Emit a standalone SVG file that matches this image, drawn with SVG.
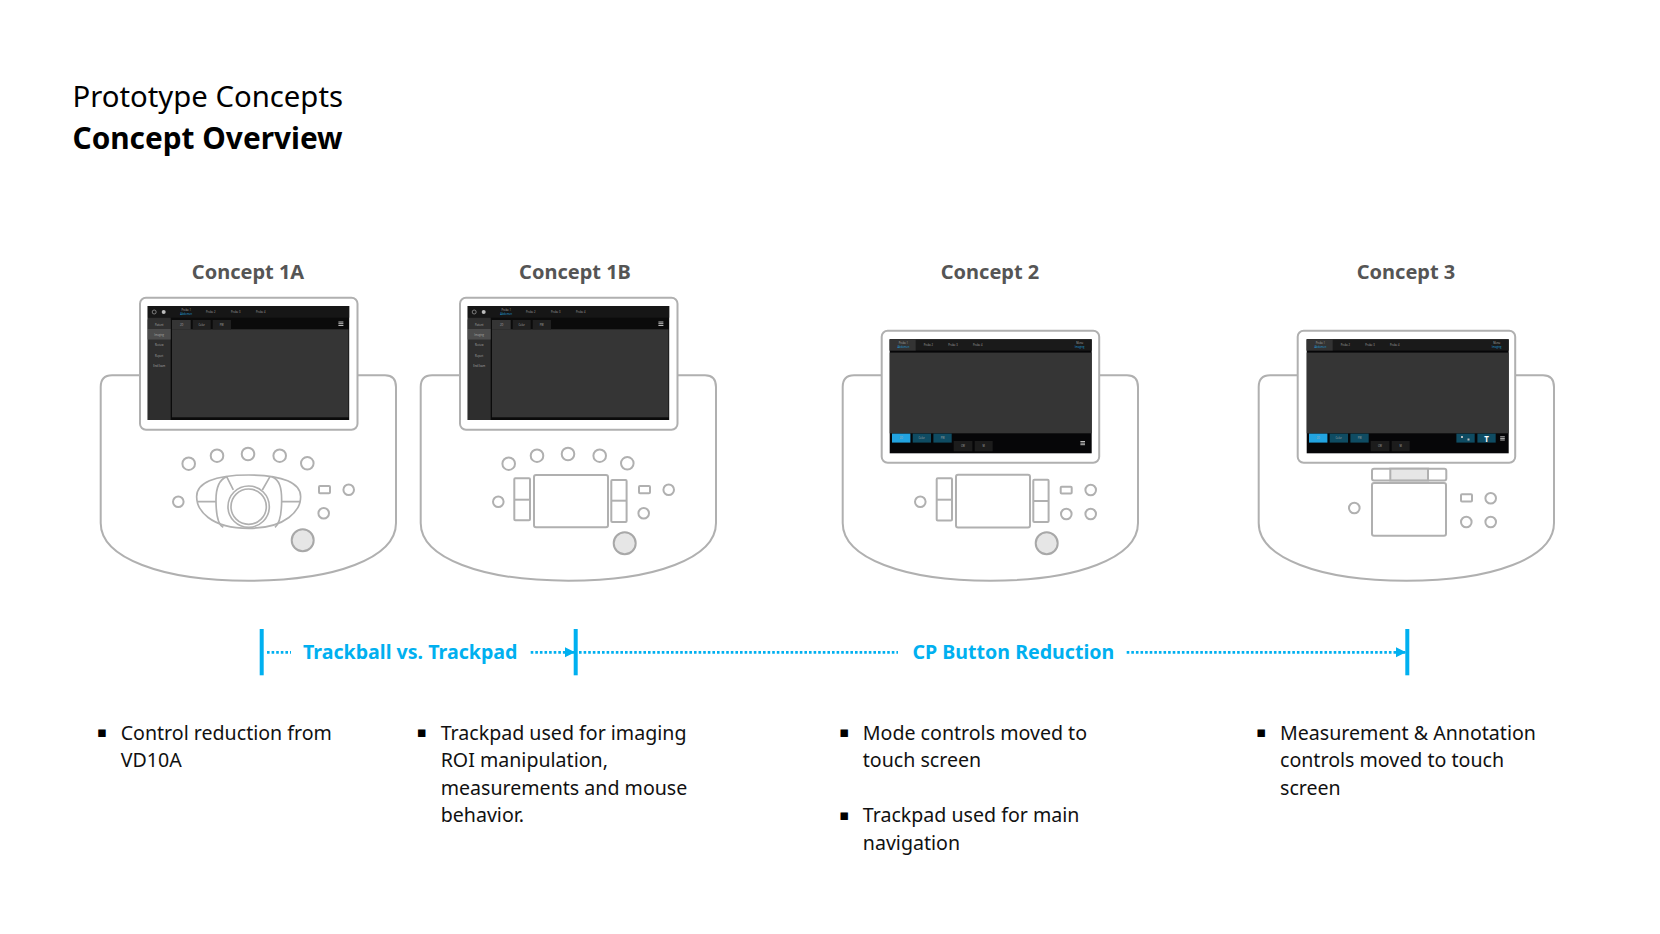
<svg xmlns="http://www.w3.org/2000/svg" width="1660" height="934" viewBox="0 0 1660 934">
<style>
.ln{fill:none;stroke:#b0b0b0;stroke-width:2}
.wh{fill:#fff;stroke:#b0b0b0;stroke-width:2}
.disc{fill:#e6e6e6;stroke:#a8a8a8;stroke-width:2}
.t{font-family:"Noto Sans","Open Sans",sans-serif}
.title{font-size:29.3px;fill:#000}
.head{font-size:20px;font-weight:700;fill:#555;text-anchor:middle}
.tl{font-size:19.6px;font-weight:700;fill:#00b0f0}
.body{font-size:19.6px;fill:#111}
.bul{font-family:"DejaVu Sans",sans-serif;font-size:15px;fill:#000}
.s{font-family:"Open Sans",sans-serif;font-size:2.6px;fill:#a8a8a8;text-anchor:middle}
.sb{fill:#1f9fd8}
.dot{fill:none;stroke:#00b0f0;stroke-width:2.8;stroke-dasharray:2.6 2}
.bar{fill:#00b0f0}
</style>
<defs>
<marker id="arr" markerUnits="userSpaceOnUse" markerWidth="11" markerHeight="11" refX="10" refY="5" orient="auto"><path d="M0 0L10 5L0 10Z" fill="#00b0f0"/></marker>
<path id="bodyShape" class="wh" d="M100.7 387Q100.7 375.3 112 375.3H385Q396 375.3 396 387V523C396 558 335 580.7 248.3 580.7C162 580.7 100.7 558 100.7 523Z"/>
<rect id="mon" class="wh" x="0" y="0" width="217.5" height="132" rx="6"/>
<g id="screenA">
<rect width="201.5" height="114" fill="#0b0b0b"/>
<rect width="201.5" height="11.7" fill="#161616"/>
<rect y="11.7" width="23" height="102.3" fill="#2e2e2e"/>
<rect y="13.5" width="23" height="9.5" fill="#303030"/>
<rect y="23" width="23" height="10.5" fill="#4c4c4c"/>
<rect x="24.3" y="23.3" width="176.5" height="88" fill="#353535"/>
<rect x="24.3" y="14" width="18.7" height="9.5" fill="#353535"/>
<rect x="45" y="14" width="18" height="9.5" fill="#202020"/>
<rect x="65" y="14" width="18.3" height="9.5" fill="#202020"/>
<circle cx="6.5" cy="6" r="2" fill="none" stroke="#bbb" stroke-width=".6"/>
<circle cx="16" cy="6" r="2" fill="#bbb"/>
<g fill="#bbb"><rect x="190.7" y="15.5" width="5" height="1"/><rect x="190.7" y="17.2" width="5" height="1"/><rect x="190.7" y="19" width="5" height="1"/></g>
<text class="s" x="38.5" y="5">Probe 1</text><text class="s sb" x="38.5" y="9">Abdomen</text>
<text class="s" x="63" y="7">Probe 2</text><text class="s" x="88" y="7">Probe 3</text><text class="s" x="113" y="7">Probe 4</text>
<text class="s" x="11.5" y="19.5">Patient</text><text class="s" x="11.5" y="29.5">Imaging</text><text class="s" x="11.5" y="40">Review</text><text class="s" x="11.5" y="51">Report</text><text class="s" x="11.5" y="61">End Exam</text>
<text class="s" x="34" y="20">2D</text><text class="s" x="54" y="20">Color</text><text class="s" x="74" y="20">PW</text>
</g>
<g id="screenB">
<rect width="202" height="114" fill="#060608"/>
<rect width="202" height="11.3" fill="#1a1a1a"/>
<rect width="26" height="11.3" fill="#333"/>
<rect y="13.3" width="202" height="80.7" fill="#353535"/>
<rect x="2.3" y="94.3" width="18.4" height="9" fill="#22a3e0"/>
<rect x="23" y="94.3" width="18.3" height="9" fill="#0f4c63"/>
<rect x="43.7" y="94.3" width="18.3" height="9" fill="#0f4c63"/>
<rect x="64" y="101.7" width="18.7" height="10.3" fill="#1c1c1c"/>
<rect x="85" y="101.7" width="18" height="10.3" fill="#1c1c1c"/>
<text class="s" x="13.7" y="4.5">Probe 1</text><text class="s sb" x="13.7" y="8.5">Abdomen</text>
<text class="s" x="38.7" y="6.5">Probe 2</text><text class="s" x="63.3" y="6.5">Probe 3</text><text class="s" x="88" y="6.5">Probe 4</text>
<text class="s" x="190" y="4.5">Menu</text><text class="s sb" x="190" y="8.5">Imaging</text>
<text class="s" x="11.5" y="100">2D</text><text class="s" x="32" y="100">Color</text><text class="s" x="53" y="100">PW</text>
<text class="s" x="73.3" y="108">CW</text><text class="s" x="94" y="108">M</text>
</g>
<g id="hamB" fill="#bbb"><rect width="4.6" height="1"/><rect y="1.6" width="4.6" height="1"/><rect y="3.2" width="4.6" height="1"/></g>
</defs>

<g id="title"><text class="t title" x="72.5" y="107">Prototype Concepts</text><text class="t title" x="72.5" y="149" font-weight="700" style="font-size:29.8px">Concept Overview</text></g>

<g id="concept-1a">
<text class="t head" x="248" y="279">Concept 1A</text>
<use href="#bodyShape"/>
<use href="#mon" x="140" y="297.7"/>
<use href="#screenA" x="147.7" y="306"/>
<g class="ln">
<circle cx="188.7" cy="463.7" r="6.3"/><circle cx="217" cy="455.7" r="6.3"/><circle cx="248" cy="454" r="6.3"/><circle cx="279.7" cy="455.7" r="6.3"/><circle cx="307.3" cy="463.3" r="6.3"/>
<circle cx="178.3" cy="501.7" r="5.3"/><rect x="319" y="486" width="11" height="7.3" rx="1"/><circle cx="348.7" cy="489.7" r="5.3"/><circle cx="323.7" cy="513.3" r="5.3"/>
<g transform="translate(90 280) scale(.3333)" stroke-width="5">
<path d="M320 650C320 610 370 585 476 585C580 585 632 610 632 650C632 690 590 745 476 745C360 745 320 690 320 650Z"/>
<path d="M410 590C385 600 378 625 378 660C378 700 385 735 400 742M545 590C570 600 575 625 575 660C575 700 570 730 555 742M410 590L430 630M540 590L517 630M322 665H378M575 665H632"/>
<circle cx="476" cy="680" r="62"/><circle cx="476" cy="680" r="53"/>
</g>
</g>
<circle class="disc" cx="302.7" cy="540.3" r="11"/>
</g>

<g id="concept-1b">
<text class="t head" x="575" y="279">Concept 1B</text>
<use href="#bodyShape" x="320"/>
<use href="#mon" x="460" y="297.7"/>
<use href="#screenA" x="467.7" y="306"/>
<g class="ln">
<circle cx="508.7" cy="463.7" r="6.3"/><circle cx="537" cy="455.7" r="6.3"/><circle cx="568" cy="454" r="6.3"/><circle cx="599.7" cy="455.7" r="6.3"/><circle cx="627.3" cy="463.3" r="6.3"/>
<circle cx="498.3" cy="501.7" r="5.3"/><rect x="639" y="486" width="11" height="7.3" rx="1"/><circle cx="668.7" cy="489.7" r="5.3"/><circle cx="643.7" cy="513.3" r="5.3"/>
<rect x="514.3" y="478.3" width="15.7" height="42" rx="1"/><path d="M514.3 499.7H530"/>
<rect x="534" y="475" width="74" height="52.3" rx="2"/>
<rect x="611.3" y="480" width="15.3" height="42" rx="1"/><path d="M611.3 500.7H626.6"/>
</g>
<circle class="disc" cx="624.7" cy="543.3" r="11"/>
</g>

<g id="concept-2">
<text class="t head" x="990" y="279">Concept 2</text>
<use href="#bodyShape" x="742"/>
<use href="#mon" x="881.7" y="330.7"/>
<use href="#screenB" x="889.7" y="339.3"/>
<use href="#hamB" x="1080.4" y="441"/>
<g class="ln">
<circle cx="920.3" cy="501.7" r="5.3"/>
<rect x="936.7" y="478.3" width="15.3" height="42.3" rx="1"/><path d="M936.7 499.7H952"/>
<rect x="956" y="474.7" width="74" height="52.7" rx="2"/>
<rect x="1033.3" y="479.7" width="15.3" height="42.3" rx="1"/><path d="M1033.3 501H1048.6"/>
<rect x="1060.7" y="486.7" width="11" height="6.7" rx="1"/><circle cx="1090.7" cy="490" r="5.3"/><circle cx="1066.3" cy="514" r="5.3"/><circle cx="1090.7" cy="514" r="5.3"/>
</g>
<circle class="disc" cx="1046.7" cy="543.3" r="11"/>
</g>

<g id="concept-3">
<text class="t head" x="1406" y="279">Concept 3</text>
<use href="#bodyShape" x="1158"/>
<use href="#mon" x="1297.7" y="330.7"/>
<use href="#screenB" x="1306.7" y="339.3"/>
<rect x="1456.4" y="433.6" width="18.3" height="9" fill="#0f4c63"/>
<rect x="1477.4" y="433.6" width="18.3" height="9" fill="#0f4c63"/>
<g fill="#bbb"><rect x="1461" y="436" width="2" height="2"/><rect x="1467.5" y="438.5" width="2" height="2"/></g>
<text x="1486.5" y="441.5" font-family="Open Sans,sans-serif" font-size="8" font-weight="700" fill="#fff" text-anchor="middle">T</text>
<use href="#hamB" x="1500.2" y="436.3"/>
<g class="ln">
<circle cx="1354.3" cy="508" r="5.3"/>
<rect x="1372" y="468.7" width="74.3" height="11.7" rx="2"/>
<rect x="1390.3" y="468.7" width="37.7" height="11.7" fill="#e6e6e6"/>
<rect x="1372" y="483" width="74" height="52.7" rx="2"/>
<rect x="1461" y="494.3" width="11" height="7.3" rx="1"/><circle cx="1490.7" cy="498.3" r="5.3"/><circle cx="1466.3" cy="522" r="5.3"/><circle cx="1490.7" cy="522" r="5.3"/>
</g>
</g>

<g id="connectors">
<path class="dot" d="M267 652.3H291"/>
<path class="dot" d="M530.7 652.3H575" marker-end="url(#arr)"/>
<path class="dot" d="M579 652.3H898"/>
<path class="dot" d="M1126.7 652.3H1406" marker-end="url(#arr)"/>
<rect class="bar" x="259.7" y="629" width="4" height="46.3"/>
<rect class="bar" x="573.7" y="629" width="4" height="46.3"/>
<rect class="bar" x="1405.3" y="629" width="4" height="46.3"/>
</g>
<g id="timeline-labels">
<text class="t tl" x="303" y="659">Trackball vs. Trackpad</text>
<text class="t tl" x="912.5" y="659">CP Button Reduction</text>
</g>

<g id="notes-1a"><text class="bul" x="96.8" y="737">▪</text><text class="t body"><tspan x="120.7" y="739.6">Control reduction from</tspan><tspan x="120.7" y="767">VD10A</tspan></text></g>
<g id="notes-1b"><text class="bul" x="416.5" y="737">▪</text><text class="t body"><tspan x="440.7" y="739.6">Trackpad used for imaging</tspan><tspan x="440.7" y="767">ROI manipulation,</tspan><tspan x="440.7" y="794.5">measurements and mouse</tspan><tspan x="440.7" y="822">behavior.</tspan></text></g>
<g id="notes-2"><text class="bul" x="839" y="737">▪</text><text class="t body"><tspan x="862.8" y="739.6">Mode controls moved to</tspan><tspan x="862.8" y="767">touch screen</tspan></text><text class="bul" x="839" y="819.5">▪</text><text class="t body"><tspan x="862.8" y="822">Trackpad used for main</tspan><tspan x="862.8" y="849.5">navigation</tspan></text></g>
<g id="notes-3"><text class="bul" x="1256" y="737">▪</text><text class="t body"><tspan x="1280" y="739.6">Measurement &amp; Annotation</tspan><tspan x="1280" y="767">controls moved to touch</tspan><tspan x="1280" y="794.5">screen</tspan></text></g>
</svg>
